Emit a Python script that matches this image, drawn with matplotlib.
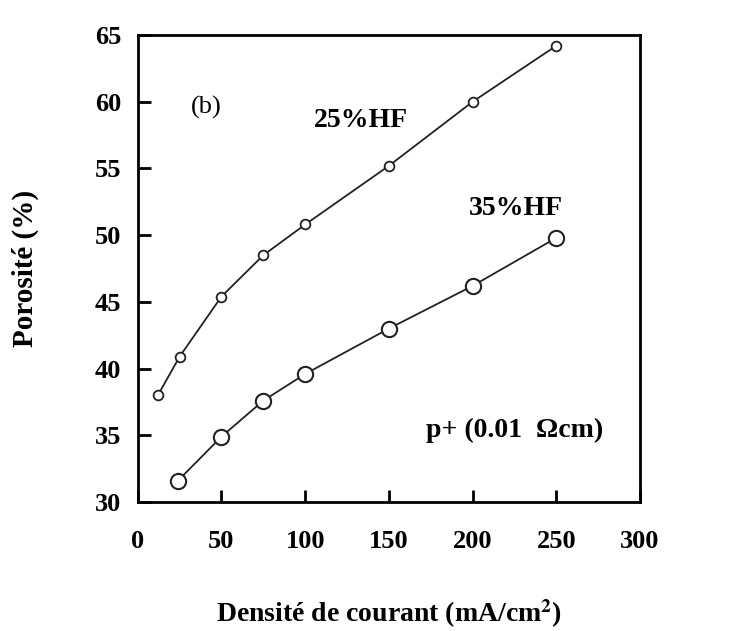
import matplotlib.pyplot as plt
import numpy as np

# -------------------------------------------------------------------------------------------------
# Data
# -------------------------------------------------------------------------------------------------
j_25 = [12, 25, 50, 75, 100, 150, 200, 250]
por_25 = [38.0, 40.9, 45.4, 48.5, 50.8, 55.2, 60.0, 64.2]

j_35 = [24, 50, 75, 100, 150, 200, 250]
por_35 = [31.6, 34.9, 37.6, 39.6, 43.0, 46.2, 49.8]

x_ticks = [0, 50, 100, 150, 200, 250, 300]
y_ticks = [30, 35, 40, 45, 50, 55, 60, 65]

plt.rcParams['font.family'] = ['Liberation Serif', 'DejaVu Serif']
plt.rcParams['mathtext.fontset'] = 'stix'

fig = plt.figure(figsize=(7.29, 6.31), dpi=100)
ax = fig.add_axes([0.189, 0.2044, 0.689, 0.7401])

ax.plot(j_25, por_25, '-o', color='#222222', lw=1.3, ms=7, mfc='white', mew=1.3)
ax.plot(j_35, por_35, '-o', color='#222222', lw=1.3, ms=11, mfc='white', mew=1.5)

ax.set_xlim(0, 300)
ax.set_ylim(30, 65)
ax.set_xticks(x_ticks)
ax.set_yticks(y_ticks)
ax.tick_params(direction='in', length=9, width=2, labelsize=19, pad=12,
               top=False, right=False)
ax.tick_params(axis='x', pad=20)
for lbl in ax.get_xticklabels() + ax.get_yticklabels():
    lbl.set_fontweight('bold')
for sp in ax.spines.values():
    sp.set_linewidth(2)

ax.set_xlabel(r"Densité de courant (mA/cm$^\mathbf{2}$)", fontsize=20, fontweight='bold', labelpad=32)
ax.set_ylabel("Porosité (%)", fontsize=21, fontweight='bold', labelpad=40)

ax.text(41, 59.6, "(b)", fontsize=19, ha='center', va='center')
ax.text(133, 58.6, "25%HF", fontsize=20, fontweight='bold', ha='center', va='center')
ax.text(226, 52.0, "35%HF", fontsize=20, fontweight='bold', ha='center', va='center')
ax.text(225, 35.4, "p+ (0.01  Ωcm)", fontsize=20, fontweight='bold', ha='center', va='center')

fig.savefig("out.png", dpi=100)
